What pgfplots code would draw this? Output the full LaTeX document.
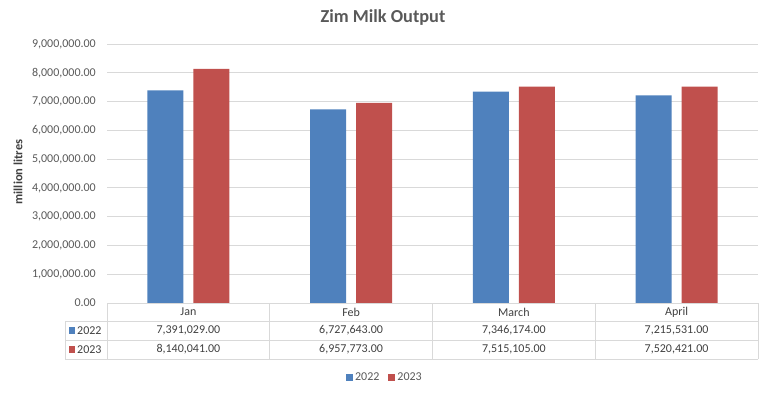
\documentclass[border=0pt]{standalone}
\usepackage{pgfplots}
\pgfplotsset{compat=1.18}
\usepackage{fontspec}
\setmainfont{Carlito}
\definecolor{cblue}{HTML}{4F81BD}
\definecolor{cred}{HTML}{C0504D}
\definecolor{txt}{HTML}{595959}
\definecolor{tbl}{HTML}{404040}
\definecolor{gridc}{HTML}{D9D9D9}
\begin{document}
\begin{tikzpicture}
\path[use as bounding box] (0pt,0pt) rectangle (769pt,392pt);
\begin{axis}[
  at={(107pt,89pt)}, anchor=south west,
  scale only axis, width=651pt, height=259pt,
  xmin=-0.5, xmax=3.5, ymin=0, ymax=9000000,
  ytick distance=1000000, xtick=\empty,
  scaled y ticks=false,
  axis line style={draw=none},
  major tick length=0pt,
  ymajorgrids, grid style={gridc, line width=0.8pt},
  ybar=10pt, bar width=36pt,
  /pgf/number format/.cd, fixed, fixed zerofill, precision=2, 1000 sep={,}, assume math mode=true,
  /pgfplots/.cd,
  yticklabel style={font=\fontsize{12}{14}\selectfont, text=txt, anchor=east, inner sep=0pt, xshift=-11pt},
  clip=false,
  legend style={at={(0.427,-0.286)}, anchor=center, draw=none, fill=none, legend columns=2,
    font=\fontsize{12}{14}\selectfont, text=txt,
    /tikz/every even column/.append style={column sep=7pt}},
  legend image code/.code={\fill[#1] (0pt,-3.5pt) rectangle (7pt,3.5pt);},
]
\addplot[fill=cblue, draw=none] coordinates {(0,7391029) (1,6727643) (2,7346174) (3,7215531)};
\addplot[fill=cred, draw=none] coordinates {(0,8140041) (1,6957773) (2,7515105) (3,7520421)};
\legend{2022,2023}
\end{axis}
% title and y label
\node[font=\bfseries\fontsize{18.3}{20}\selectfont, text=txt] at (383pt,374pt) {Zim Milk Output};
\node[font=\bfseries\fontsize{12.5}{14}\selectfont, text=tbl, rotate=90] at (18pt,220pt) {million litres};
% data table
\begin{scope}[draw=gridc, line width=0.8pt]
\draw (107pt,89pt) -- (758pt,89pt);
\draw (65pt,71pt) -- (758pt,71pt);
\draw (65pt,52pt) -- (758pt,52pt);
\draw (65pt,33pt) -- (758pt,33pt);
\draw (65pt,71pt) -- (65pt,33pt);
\draw (107pt,89pt) -- (107pt,33pt);
\draw (269.75pt,89pt) -- (269.75pt,33pt);
\draw (432.5pt,89pt) -- (432.5pt,33pt);
\draw (595.25pt,89pt) -- (595.25pt,33pt);
\draw (758pt,89pt) -- (758pt,33pt);
\end{scope}
\begin{scope}[every node/.style={font=\fontsize{12}{14}\selectfont, text=tbl, inner sep=0pt}]
\node at (188.4pt,80pt) {Jan};
\node at (351.1pt,80pt) {Feb};
\node at (513.9pt,80pt) {March};
\node at (676.6pt,80pt) {April};
\node at (188.4pt,61.5pt) {7,391,029.00};
\node at (351.1pt,61.5pt) {6,727,643.00};
\node at (513.9pt,61.5pt) {7,346,174.00};
\node at (676.6pt,61.5pt) {7,215,531.00};
\node at (188.4pt,42.5pt) {8,140,041.00};
\node at (351.1pt,42.5pt) {6,957,773.00};
\node at (513.9pt,42.5pt) {7,515,105.00};
\node at (676.6pt,42.5pt) {7,520,421.00};
\node[anchor=west] at (77pt,61.5pt) {2022};
\node[anchor=west] at (77pt,42.5pt) {2023};
\end{scope}
\fill[cblue] (69pt,58pt) rectangle (75pt,65pt);
\fill[cred] (69pt,39pt) rectangle (75pt,46pt);
\end{tikzpicture}
\end{document}
